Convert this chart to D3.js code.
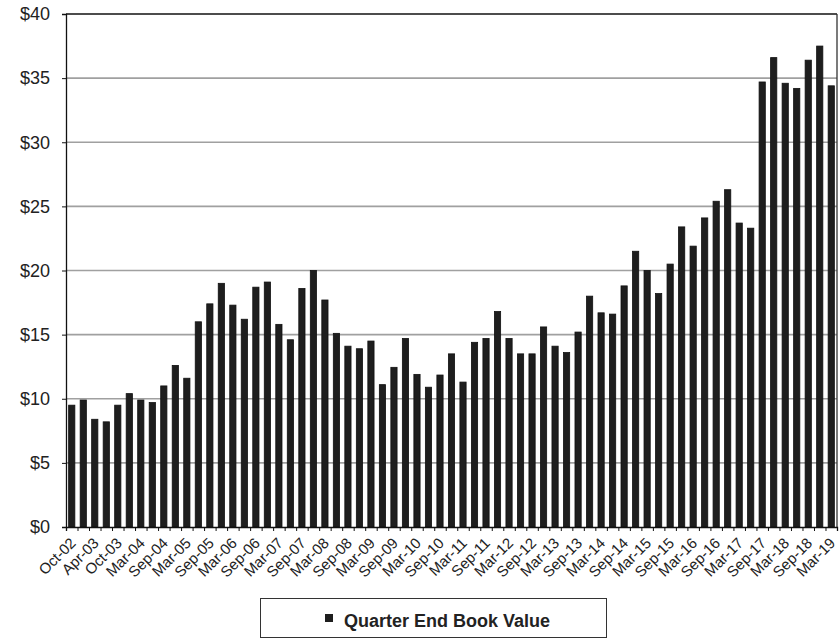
<!DOCTYPE html>
<html>
<head>
<meta charset="utf-8">
<script src="https://cdn.jsdelivr.net/npm/d3@7/dist/d3.min.js"></script>
<style>
  html, body { margin: 0; padding: 0; background: #fff; }
  svg { display: block; font-family: "Liberation Sans", Arial, sans-serif; }
</style>
</head>
<body>
<svg id="chart" width="840" height="640"></svg>
<script>
// Labels shown under every second quarter
const quarterLabels = [
  "Oct-02","Apr-03","Oct-03","Mar-04","Sep-04","Mar-05","Sep-05","Mar-06",
  "Sep-06","Mar-07","Sep-07","Mar-08","Sep-08","Mar-09","Sep-09","Mar-10",
  "Sep-10","Mar-11","Sep-11","Mar-12","Sep-12","Mar-13","Sep-13","Mar-14",
  "Sep-14","Mar-15","Sep-15","Mar-16","Sep-16","Mar-17","Sep-17","Mar-18",
  "Sep-18","Mar-19"
];

// Book value at each quarter end ($)
const bookValues = [
  9.5, 9.9, 8.4, 8.2, 9.5, 10.4, 9.9, 9.7, 11.0, 12.6,
  11.6, 16.0, 17.4, 19.0, 17.3, 16.2, 18.7, 19.1, 15.8, 14.6,
  18.6, 20.0, 17.7, 15.1, 14.1, 13.9, 14.5, 11.1, 12.45, 14.7,
  11.9, 10.9, 11.85, 13.5, 11.3, 14.4, 14.7, 16.8, 14.7, 13.5,
  13.5, 15.6, 14.1, 13.6, 15.2, 18.0, 16.7, 16.6, 18.8, 21.5,
  20.0, 18.2, 20.5, 23.4, 21.9, 24.1, 25.4, 26.3, 23.7, 23.3,
  34.7, 36.6, 34.6, 34.2, 36.4, 37.5, 34.4
];

const yTicks = [0, 5, 10, 15, 20, 25, 30, 35, 40];
const seriesName = "Quarter End Book Value";

const svg = d3.select("#chart");
const plotLeft = 66, plotRight = 837, plotTop = 14, plotBottom = 527;

const idx = d3.range(bookValues.length);
const x = d3.scaleBand().domain(idx).range([plotLeft, plotRight]).paddingInner(0.46).paddingOuter(0.23);
const xEdges = d3.scaleLinear().domain([0, bookValues.length]).range([plotLeft, plotRight]);
const y = d3.scaleLinear().domain([0, 40]).range([plotBottom, plotTop]);

// horizontal gridlines
svg.append("g")
  .selectAll("line")
  .data(yTicks.filter(d => d > 0 && d < 40))
  .join("line")
  .attr("x1", plotLeft).attr("x2", plotRight)
  .attr("y1", d => y(d)).attr("y2", d => y(d))
  .attr("stroke", "#a0a0a0").attr("stroke-width", 1.6);

// plot frame (top and right)
svg.append("line").attr("x1", plotLeft).attr("x2", plotRight).attr("y1", y(40)).attr("y2", y(40))
  .attr("stroke", "#111").attr("stroke-width", 1.3);
svg.append("line").attr("x1", plotRight).attr("x2", plotRight).attr("y1", y(40)).attr("y2", y(0))
  .attr("stroke", "#333").attr("stroke-width", 1.3);

// bars
svg.append("g")
  .selectAll("rect")
  .data(idx)
  .join("rect")
  .attr("x", i => x(i))
  .attr("width", x.bandwidth())
  .attr("y", i => y(bookValues[i]))
  .attr("height", i => y(0) - y(bookValues[i]))
  .attr("fill", "#1e1e1e")
  .attr("stroke", "#111")
  .attr("stroke-width", 0.8);

// y axis
const yAxis = svg.append("g")
  .attr("transform", `translate(${plotLeft},0)`)
  .call(d3.axisLeft(y).tickValues(yTicks).tickSize(4).tickPadding(12).tickFormat(d => "$" + d));
yAxis.select(".domain").attr("stroke", "#111").attr("stroke-width", 1.3);
yAxis.selectAll(".tick line").attr("stroke", "#111");
yAxis.selectAll(".tick text").attr("font-size", 18).attr("fill", "#222")
  .attr("font-family", "Liberation Sans, Arial, sans-serif");

// x axis tick marks at category boundaries
const xTickAxis = svg.append("g")
  .attr("transform", `translate(0,${plotBottom})`)
  .call(d3.axisBottom(xEdges).tickValues(d3.range(bookValues.length + 1)).tickSize(4).tickFormat(""));
xTickAxis.select(".domain").attr("stroke", "#111").attr("stroke-width", 1.3);
xTickAxis.selectAll(".tick line").attr("stroke", "#111");

// x axis labels on every second bar
const labelIdx = idx.filter(i => i % 2 === 0);
const xLabelAxis = svg.append("g")
  .attr("transform", `translate(0,${plotBottom})`)
  .call(d3.axisBottom(x).tickValues(labelIdx).tickSize(0).tickFormat(i => quarterLabels[i / 2]));
xLabelAxis.select(".domain").remove();
xLabelAxis.selectAll(".tick text")
  .attr("font-size", 15)
  .attr("fill", "#222")
  .attr("font-family", "Liberation Sans, Arial, sans-serif")
  .attr("text-anchor", "end")
  .attr("dy", null)
  .attr("y", 0)
  .attr("transform", "translate(5,17) rotate(-45)");

// legend
const legend = svg.append("g");
legend.append("rect")
  .attr("x", 260.5).attr("y", 598.5).attr("width", 346).attr("height", 39)
  .attr("fill", "#fff").attr("stroke", "#333").attr("stroke-width", 1);
legend.append("rect")
  .attr("x", 325).attr("y", 614).attr("width", 8).attr("height", 8)
  .attr("fill", "#1e1e1e");
legend.append("text")
  .attr("x", 344).attr("y", 627)
  .attr("font-size", 18).attr("font-weight", "bold").attr("fill", "#222")
  .text(seriesName);
</script>
</body>
</html>
